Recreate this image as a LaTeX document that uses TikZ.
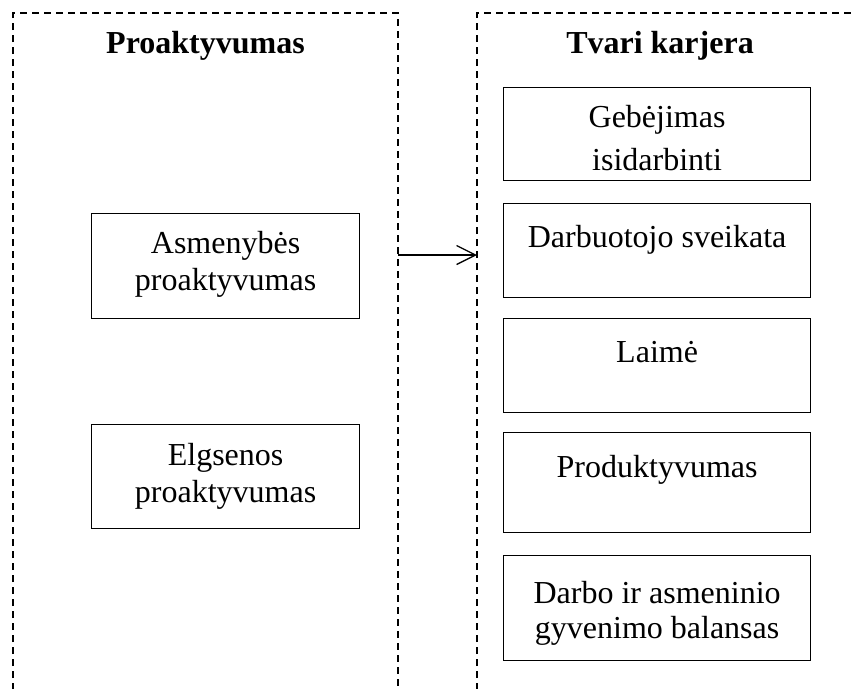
\documentclass[tikz,border=0pt]{standalone}
\usepackage{fontspec}
\setmainfont{Liberation Serif}
\usetikzlibrary{arrows.meta}
\begin{document}
\begin{tikzpicture}[x=1pt,y=-1pt,
  frame/.style={line width=2pt,dash pattern=on 7pt off 5pt},
  itembox/.style={draw,line width=1.2pt,minimum width=#1,anchor=north west,inner sep=0pt},
  lbl/.style={anchor=base,inner sep=0pt,font=\fontsize{32}{37}\selectfont},
  head/.style={anchor=base,inner sep=0pt,font=\fontsize{32}{37}\selectfont\bfseries},
  conn/.style={line width=1.3pt,-{Straight Barb[length=19pt,width=19pt,line width=1.3pt]}}]
\useasboundingbox (0,0) rectangle (851,688);
% dashed frames
\draw[frame] (13,690) -- (13,13) -- (398,13) -- (398,690);
\draw[frame] (477,690) -- (477,13) -- (855,13);
\node[head] (h1) at (205.5,53) {Proaktyvumas};
\node[head] (h2) at (660,53) {Tvari karjera};
% left boxes
\node[itembox=268pt,minimum height=105pt] (a) at (91,213) {};
\node[lbl] (a1) at ([yshift=-40pt]a.north) {Asmenybės};
\node[lbl] (a2) at ([yshift=-77pt]a.north) {proaktyvumas};
\node[itembox=268pt,minimum height=104pt] (b) at (91,424) {};
\node[lbl] (b1) at ([yshift=-41pt]b.north) {Elgsenos};
\node[lbl] (b2) at ([yshift=-78pt]b.north) {proaktyvumas};
% right boxes
\node[itembox=307pt,minimum height=93pt] (c) at (503,87) {};
\node[lbl] (c1) at ([yshift=-40pt]c.north) {Gebėjimas};
\node[lbl] (c2) at ([yshift=-83pt]c.north) {isidarbinti};
\node[itembox=307pt,minimum height=94pt] (d) at (503,203) {};
\node[lbl] (d1) at ([yshift=-44pt]d.north) {Darbuotojo sveikata};
\node[itembox=307pt,minimum height=94pt] (e) at (503,318) {};
\node[lbl] (e1) at ([yshift=-44pt]e.north) {Laimė};
\node[itembox=307pt,minimum height=100pt] (f) at (503,432) {};
\node[lbl] (f1) at ([yshift=-45pt]f.north) {Produktyvumas};
\node[itembox=307pt,minimum height=105pt] (g) at (503,555) {};
\node[lbl] (g1) at ([yshift=-48pt]g.north) {Darbo ir asmeninio};
\node[lbl] (g2) at ([yshift=-83pt]g.north) {gyvenimo balansas};
% connector
\coordinate (L) at (398,255);
\coordinate (R) at (477,255);
\draw[conn] (L) -- (R);
\end{tikzpicture}
\end{document}
